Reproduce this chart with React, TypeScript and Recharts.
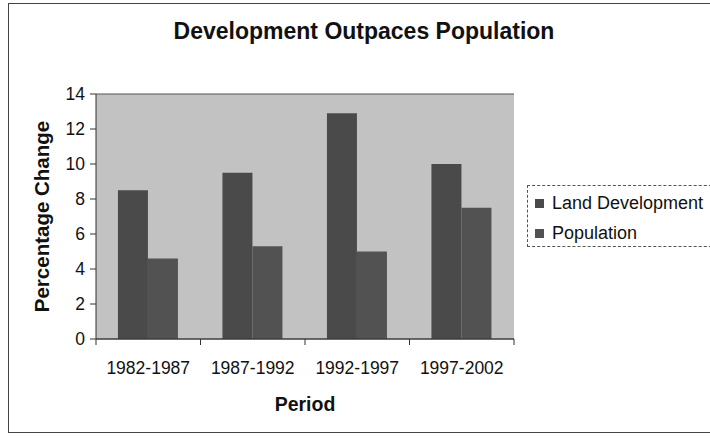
import React from 'react';
import {
  Bar,
  BarChart,
  CartesianGrid,
  Legend,
  XAxis,
  YAxis,
} from 'recharts';

const periods = ['1982-1987', '1987-1992', '1992-1997', '1997-2002'];
const landDevelopment = [8.5, 9.5, 12.9, 10];
const population = [4.6, 5.3, 5.0, 7.5];
const yTicks = [0, 2, 4, 6, 8, 10, 12, 14];

const data = periods.map((period, i) => ({
  period,
  land: landDevelopment[i],
  population: population[i],
}));

const FONT = '"Liberation Sans", Arial, sans-serif';
const BAR_FILL = '#4a4a4a';
const BAR_FILL_2 = '#525252';
const X_TICK_GAP = 23;

function PeriodTick(props: any) {
  const { x, y, payload, index, visibleTicksCount, width } = props;
  const half =
    typeof payload.offset === 'number' && payload.offset > 0
      ? payload.offset
      : width / visibleTicksCount / 2;
  const axisY = y - X_TICK_GAP;
  return (
    <g>
      <text
        x={x}
        y={y}
        dy="0.71em"
        textAnchor="middle"
        fill="#111"
        fontSize={17.5}
        fontFamily={FONT}
      >
        {payload.value}
      </text>
      {index === 0 && (
        <line x1={x - half} x2={x - half} y1={axisY} y2={axisY + 6} stroke="#333" />
      )}
      <line x1={x + half} x2={x + half} y1={axisY} y2={axisY + 6} stroke="#333" />
    </g>
  );
}

function LegendBox({ payload }: any) {
  return (
    <div
      style={{
        border: '1px dashed #555',
        width: 200,
        height: 62,
        boxSizing: 'border-box',
        padding: '2px 0 0 7px',
        fontFamily: FONT,
        fontSize: 18,
        color: '#111',
      }}
    >
      {(payload || []).map((entry: any) => (
        <div
          key={entry.value}
          style={{ display: 'flex', alignItems: 'center', height: 30, lineHeight: '30px' }}
        >
          <span
            style={{
              display: 'inline-block',
              width: 9,
              height: 9,
              background: entry.color,
              marginRight: 8,
            }}
          />
          {entry.value}
        </div>
      ))}
    </div>
  );
}

export default function App() {
  return (
    <div
      style={{
        position: 'absolute',
        left: 0,
        top: 0,
        width: 710,
        height: 438,
        overflow: 'hidden',
        background: '#fff',
      }}
    >
      <div
        style={{
          position: 'absolute',
          left: 8,
          top: 3,
          width: 720,
          height: 430,
          border: '1px solid #444',
          boxSizing: 'border-box',
        }}
      />
      <div
        style={{
          position: 'absolute',
          left: 114,
          top: 20,
          width: 500,
          textAlign: 'center',
          fontFamily: FONT,
          fontWeight: 'bold',
          fontSize: 23,
          lineHeight: '23px',
          color: '#111',
        }}
      >
        Development Outpaces Population
      </div>
      <BarChart
        width={710}
        height={438}
        data={data}
        margin={{ top: 94, right: 196, bottom: 20, left: 36 }}
        barCategoryGap="21%"
        barGap={0}
      >
        <CartesianGrid
          vertical={false}
          stroke="#555"
          fill="#c2c2c2"
          fillOpacity={1}
        />
        <XAxis
          dataKey="period"
          height={79}
          stroke="#333"
          tickLine={false}
          tickSize={8}
          tickMargin={15}
          tick={<PeriodTick />}
          interval={0}
          label={{
            value: 'Period',
            position: 'insideBottom',
            offset: 7,
            fontFamily: FONT,
            fontWeight: 'bold',
            fontSize: 19.5,
            fill: '#111',
          }}
        />
        <YAxis
          yAxisId="left"
          width={60}
          domain={[0, 14]}
          ticks={yTicks}
          interval={0}
          stroke="#333"
          tickSize={6}
          tickMargin={5}
          tick={{ fill: '#111', fontSize: 17.5, fontFamily: FONT }}
          label={{
            value: 'Percentage Change',
            angle: -90,
            position: 'insideLeft',
            offset: 6,
            fontFamily: FONT,
            fontWeight: 'bold',
            fontSize: 20.5,
            fill: '#111',
            style: { textAnchor: 'middle' },
          }}
        />
        <YAxis
          yAxisId="right"
          orientation="right"
          width={0}
          domain={[0, 14]}
          ticks={yTicks}
          tick={false}
          tickLine={false}
          stroke="#333"
        />
        <Legend
          layout="vertical"
          align="center"
          verticalAlign="middle"
          wrapperStyle={{ left: 527, top: 185, width: 200, height: 62 }}
          content={<LegendBox />}
        />
        <Bar
          yAxisId="left"
          dataKey="land"
          name="Land Development"
          fill={BAR_FILL}
          isAnimationActive={false}
        />
        <Bar
          yAxisId="left"
          dataKey="population"
          name="Population"
          fill={BAR_FILL_2}
          isAnimationActive={false}
        />
      </BarChart>
    </div>
  );
}
